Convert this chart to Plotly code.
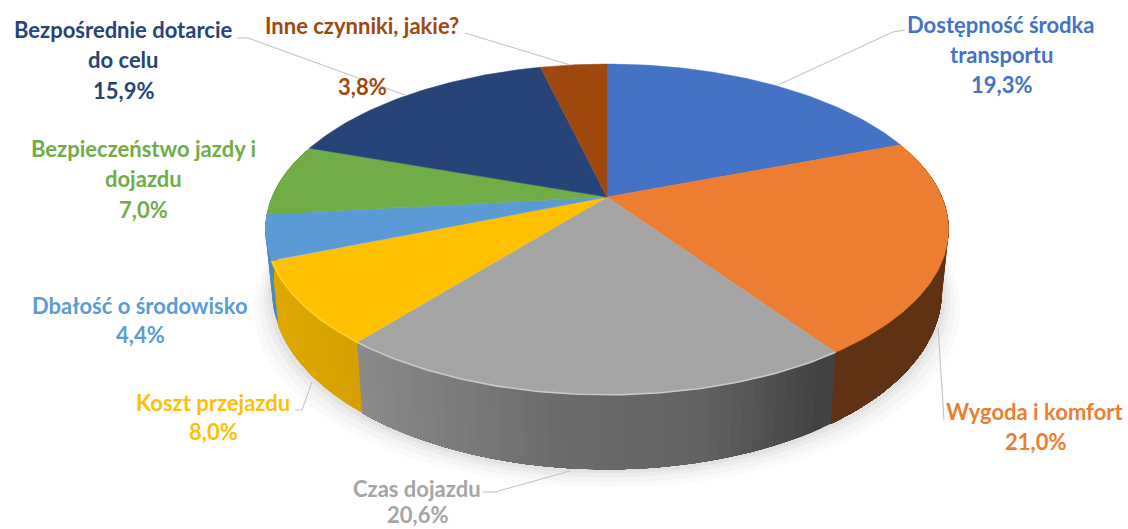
import numpy as np
import plotly.graph_objects as go

categories = ["Dostępność środka<br>transportu", "Wygoda i komfort", "Czas dojazdu", "Koszt przejazdu",
              "Dbałość o środowisko", "Bezpieczeństwo jazdy i<br>dojazdu", "Bezpośrednie dotarcie<br>do celu",
              "Inne czynniki, jakie?"]
values = [19.3, 21.0, 20.6, 8.0, 4.4, 7.0, 15.9, 3.8]
colors = ["#4472C4", "#ED7D31", "#A5A5A5", "#FFC000", "#5B9BD5", "#70AD47", "#264478", "#9E480E"]

CX, CY, A, B, K, H = 607.0, 197.0, 335.0, 159.0, 0.196, 60.0
BOTTOM_X = 0.98


def project(theta, r=1.0, drop=0.0):
    u, v = r * np.sin(theta), r * np.cos(theta)
    w = 1 + K * v
    sx = BOTTOM_X if drop else 1.0
    return CX + sx * A * u / w, CY - B * v / w + drop / w


def shade(hexcol, f):
    rgb = [int(hexcol[i:i + 2], 16) for i in (1, 3, 5)]
    return "rgb(%d,%d,%d)" % tuple(int(c * f) for c in rgb)


def wall_factor(x):
    return float(np.interp(x, [265, 360, 550, 700, 825, 950], [0.88, 0.84, 0.66, 0.60, 0.40, 0.40]))


fig = go.Figure()
kw = dict(mode="lines", fill="toself", hoverinfo="skip", showlegend=False)

# soft shadow under the pie
th = np.linspace(np.pi * 0.40, np.pi * 1.60, 160)
for grow, op in [(18, 0.03), (13, 0.04), (8, 0.05), (4, 0.06)]:
    xs, ys = project(th, 1.0, H)
    ex = (xs - CX) * (1 + grow / 335) + CX
    ey = ys + grow
    top_x, top_y = project(th[::-1], 1.0, 0)
    fig.add_trace(go.Scatter(x=np.r_[ex, top_x], y=np.r_[ey, top_y], line=dict(width=0),
                             fillcolor="rgba(90,90,90,%g)" % op, **kw))

edges = np.r_[0, np.cumsum(values)] / sum(values) * 2 * np.pi

# side walls: coarse overlapping strips, each painted over the seam of the one before it
for i, col in enumerate(colors):
    a0, a1 = edges[i], edges[i + 1]
    lo, hi = max(a0, np.pi * 0.40), min(a1, np.pi * 1.60)
    if hi <= lo:
        continue
    n = max(2, int((hi - lo) / 0.03))
    grid = np.linspace(lo, hi, n + 1)
    for s in range(n):
        t = np.linspace(grid[s], hi, max(3, (n - s) + 1))
        x1, y1 = project(t)
        x2, y2 = project(t[::-1], 1.0, H)
        xm = project(np.array([grid[s], grid[s + 1]]))[0].mean()
        c = shade(col, wall_factor(xm))
        fig.add_trace(go.Scatter(x=np.r_[x1, x2], y=np.r_[y1, y2], line=dict(width=0), fillcolor=c, **kw))

# top face
for i, col in enumerate(colors):
    t = np.linspace(edges[i], edges[i + 1], 80)
    x, y = project(t)
    fig.add_trace(go.Scatter(x=np.r_[CX, x, CX], y=np.r_[CY, y, CY], line=dict(width=0.5, color=col),
                             fillcolor=col, **kw))

# light rim on the front slices
for i, rim in [(2, "#c9c9c9"), (3, "#ffd21f")]:
    t = np.linspace(edges[i], edges[i + 1], 80)
    x, y = project(t)
    fig.add_trace(go.Scatter(x=x, y=y, mode="lines", line=dict(width=1.6, color=rim), hoverinfo="skip",
                             showlegend=False))

# labels: (centre x, first line y, line step)
label_pos = [(1001, 24, 30), (1035, 411, 30), (417, 488, 26), (213, 402, 29),
             (140, 305, 29), (143, 148, 30.5), (123, 29, 30.5), (362, 25, 61)]
FONT = "Lato, Carlito, Arial, sans-serif"
for name, val, col, (lx, ly, step) in zip(categories, values, colors, label_pos):
    lines = name.split("<br>") + [f"{val:.1f}".replace(".", ",") + "%"]
    for j, line in enumerate(lines):
        fig.add_annotation(x=lx, y=ly + j * step, text=f"<b>{line}</b>", showarrow=False, xanchor="center",
                           yanchor="middle", font=dict(family=FONT, size=22, color=col))

leaders = [[(905, 30), (893, 32), (778, 85)], [(944, 420), (938, 327)], [(483, 492), (495, 492), (570, 471)],
           [(295, 410), (302, 410), (312, 382)], [(465, 33), (570, 65)], [(237, 38), (248, 38), (405, 95)]]
shapes = []
for pts in leaders:
    path = "M " + " L ".join(f"{px},{py}" for px, py in pts)
    shapes.append(dict(type="path", path=path, line=dict(color="#bfbfbf", width=1), xref="x", yref="y"))

fig.update_layout(width=1128, height=529, margin=dict(l=0, r=0, t=0, b=0), paper_bgcolor="white",
                  plot_bgcolor="white", shapes=shapes, showlegend=False,
                  xaxis=dict(range=[0, 1128], visible=False, fixedrange=True),
                  yaxis=dict(range=[529, 0], visible=False, fixedrange=True))
fig.write_html("out.html", post_script="document.body.style.margin='0';", config={"displayModeBar": False})
